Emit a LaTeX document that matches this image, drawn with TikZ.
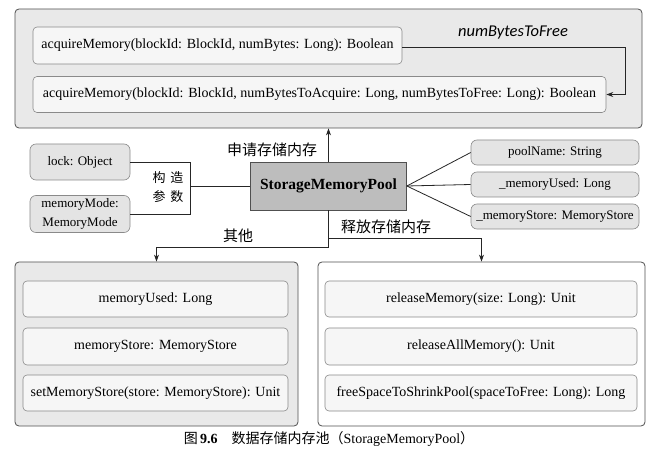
\documentclass[tikz,border=0pt]{standalone}
\usepackage{fontspec}
\setmainfont{Liberation Serif}
\newfontfamily\cjk{Noto Sans CJK SC}
\newfontfamily\itsans{Carlito}
\usetikzlibrary{arrows.meta}
\definecolor{outerfill}{HTML}{E9E9E9}
\definecolor{innerfill}{HTML}{F6F6F6}
\definecolor{smpfill}{HTML}{BDBDBD}
\definecolor{sidefill}{HTML}{E4E4E4}
\definecolor{bordercol}{HTML}{505050}
\definecolor{innerborder}{HTML}{8A8A8A}
\tikzset{
  outerbox/.style={draw=bordercol, line width=0.8pt, rounded corners=4pt, inner sep=0pt},
  innerbox/.style={draw=innerborder, line width=0.6pt, fill=innerfill, rounded corners=4pt, inner sep=0pt, font=\fontsize{14}{16}\selectfont},
  sidebox/.style={draw=innerborder, line width=0.6pt, fill=sidefill, rounded corners=6pt, inner sep=0pt, align=center, font=\fontsize{13}{19}\selectfont},
  conn/.style={draw=black!85, line width=0.8pt},
  arr/.style={conn, -{Stealth[length=7pt,width=5pt]}},
  lbl/.style={font=\cjk\fontsize{15}{17}\selectfont, inner sep=0pt}
}
\begin{document}
\begin{tikzpicture}[x=1pt,y=-1pt]
\path[use as bounding box, fill=white] (0,0) rectangle (656,454);
% top box
\node[outerbox, fill=outerfill, minimum width=627pt, minimum height=119pt] (top) at (328.5,68.5) {};
\node[innerbox, minimum width=369pt, minimum height=37pt] (acq1) at (217.5,45.5) {acquireMemory(blockId: BlockId, numBytes: Long): Boolean};
\node[innerbox, minimum width=573pt, minimum height=36pt] (acq2) at (319.5,94.5) {acquireMemory(blockId: BlockId, numBytesToAcquire: Long, numBytesToFree: Long): Boolean};
\node[font=\itsans\itshape\fontsize{16.5}{18}\selectfont, inner sep=0pt] (nbf) at (513,33) {numBytesToFree};
\coordinate (turn) at (625,47);
\draw[arr] (acq1.east |- turn) -- (turn) |- (acq2.east);
% center
\node[draw=bordercol, line width=0.7pt, fill=smpfill, minimum width=156pt, minimum height=48pt, inner sep=0pt, font=\bfseries\fontsize{15.5}{17}\selectfont] (smp) at (328.5,186) {StorageMemoryPool};
\draw[arr] (smp.north) -- (smp.north |- top.south);
\node[lbl] (apply) at (272,150) {申请存储内存};
% constructor params
\node[sidebox, minimum width=100pt, minimum height=36pt] (lock) at (80,162) {lock: Object};
\node[sidebox, minimum width=100pt, minimum height=37pt] (mode) at (80,214) {memoryMode:\\MemoryMode};
\coordinate (bt) at (190,162);
\coordinate (bb) at (190,214);
\coordinate (bm) at (190,186);
\draw[conn] (lock.east) -- (bt) -- (bb) -- (mode.east);
\draw[conn] (bm) -- (smp.west);
\node[font=\cjk\fontsize{13}{19}\selectfont, align=center, inner sep=0pt] (ctor) at (168,187) {构\hspace{5pt}造\\参\hspace{5pt}数};
% fields
\node[sidebox, minimum width=168pt, minimum height=25pt] (pool) at (555,152.5) {poolName: String};
\node[sidebox, minimum width=168pt, minimum height=25pt] (used) at (555,184.5) {\_memoryUsed: Long};
\node[sidebox, minimum width=168pt, minimum height=25pt] (mstore) at (555,216.5) {\_memoryStore: MemoryStore};
\draw[conn] (smp.east) -- (pool.west);
\draw[conn] (smp.east) -- (used.west);
\draw[conn] (smp.east) -- (mstore.west);
% bottom boxes
\node[outerbox, fill=outerfill, minimum width=283pt, minimum height=164pt] (lbox) at (156.5,344) {};
\node[outerbox, fill=white, minimum width=327pt, minimum height=164pt] (rbox) at (481.5,344) {};
\coordinate (juncR) at (smp.south |- 0,238);
\coordinate (juncL) at (smp.south |- 0,247);
\draw[conn] (smp.south) -- (juncL);
\draw[arr] (juncL) -| (lbox.north);
\draw[arr] (juncR) -| (rbox.north);
\node[lbl] (other) at (238,236) {其他};
\node[lbl] (release) at (386,227) {释放存储内存};
\node[innerbox, minimum width=265pt, minimum height=36pt] (l1) at (155.5,299) {memoryUsed: Long};
\node[innerbox, minimum width=265pt, minimum height=37pt] (l2) at (155.5,346.5) {memoryStore: MemoryStore};
\node[innerbox, minimum width=265pt, minimum height=36pt] (l3) at (155.5,393) {setMemoryStore(store: MemoryStore): Unit};
\node[innerbox, minimum width=312pt, minimum height=36pt] (r1) at (481,299) {releaseMemory(size: Long): Unit};
\node[innerbox, minimum width=312pt, minimum height=37pt] (r2) at (481,346.5) {releaseAllMemory(): Unit};
\node[innerbox, minimum width=312pt, minimum height=36pt] (r3) at (481,393) {freeSpaceToShrinkPool(spaceToFree: Long): Long};
% caption
\node[inner sep=0pt, font=\fontsize{14}{16}\selectfont] (cap) at (329,439) {{\cjk 图}\,\textbf{9.6}\quad{\cjk 数据存储内存池（}StorageMemoryPool{\cjk ）}};
\end{tikzpicture}
\end{document}
